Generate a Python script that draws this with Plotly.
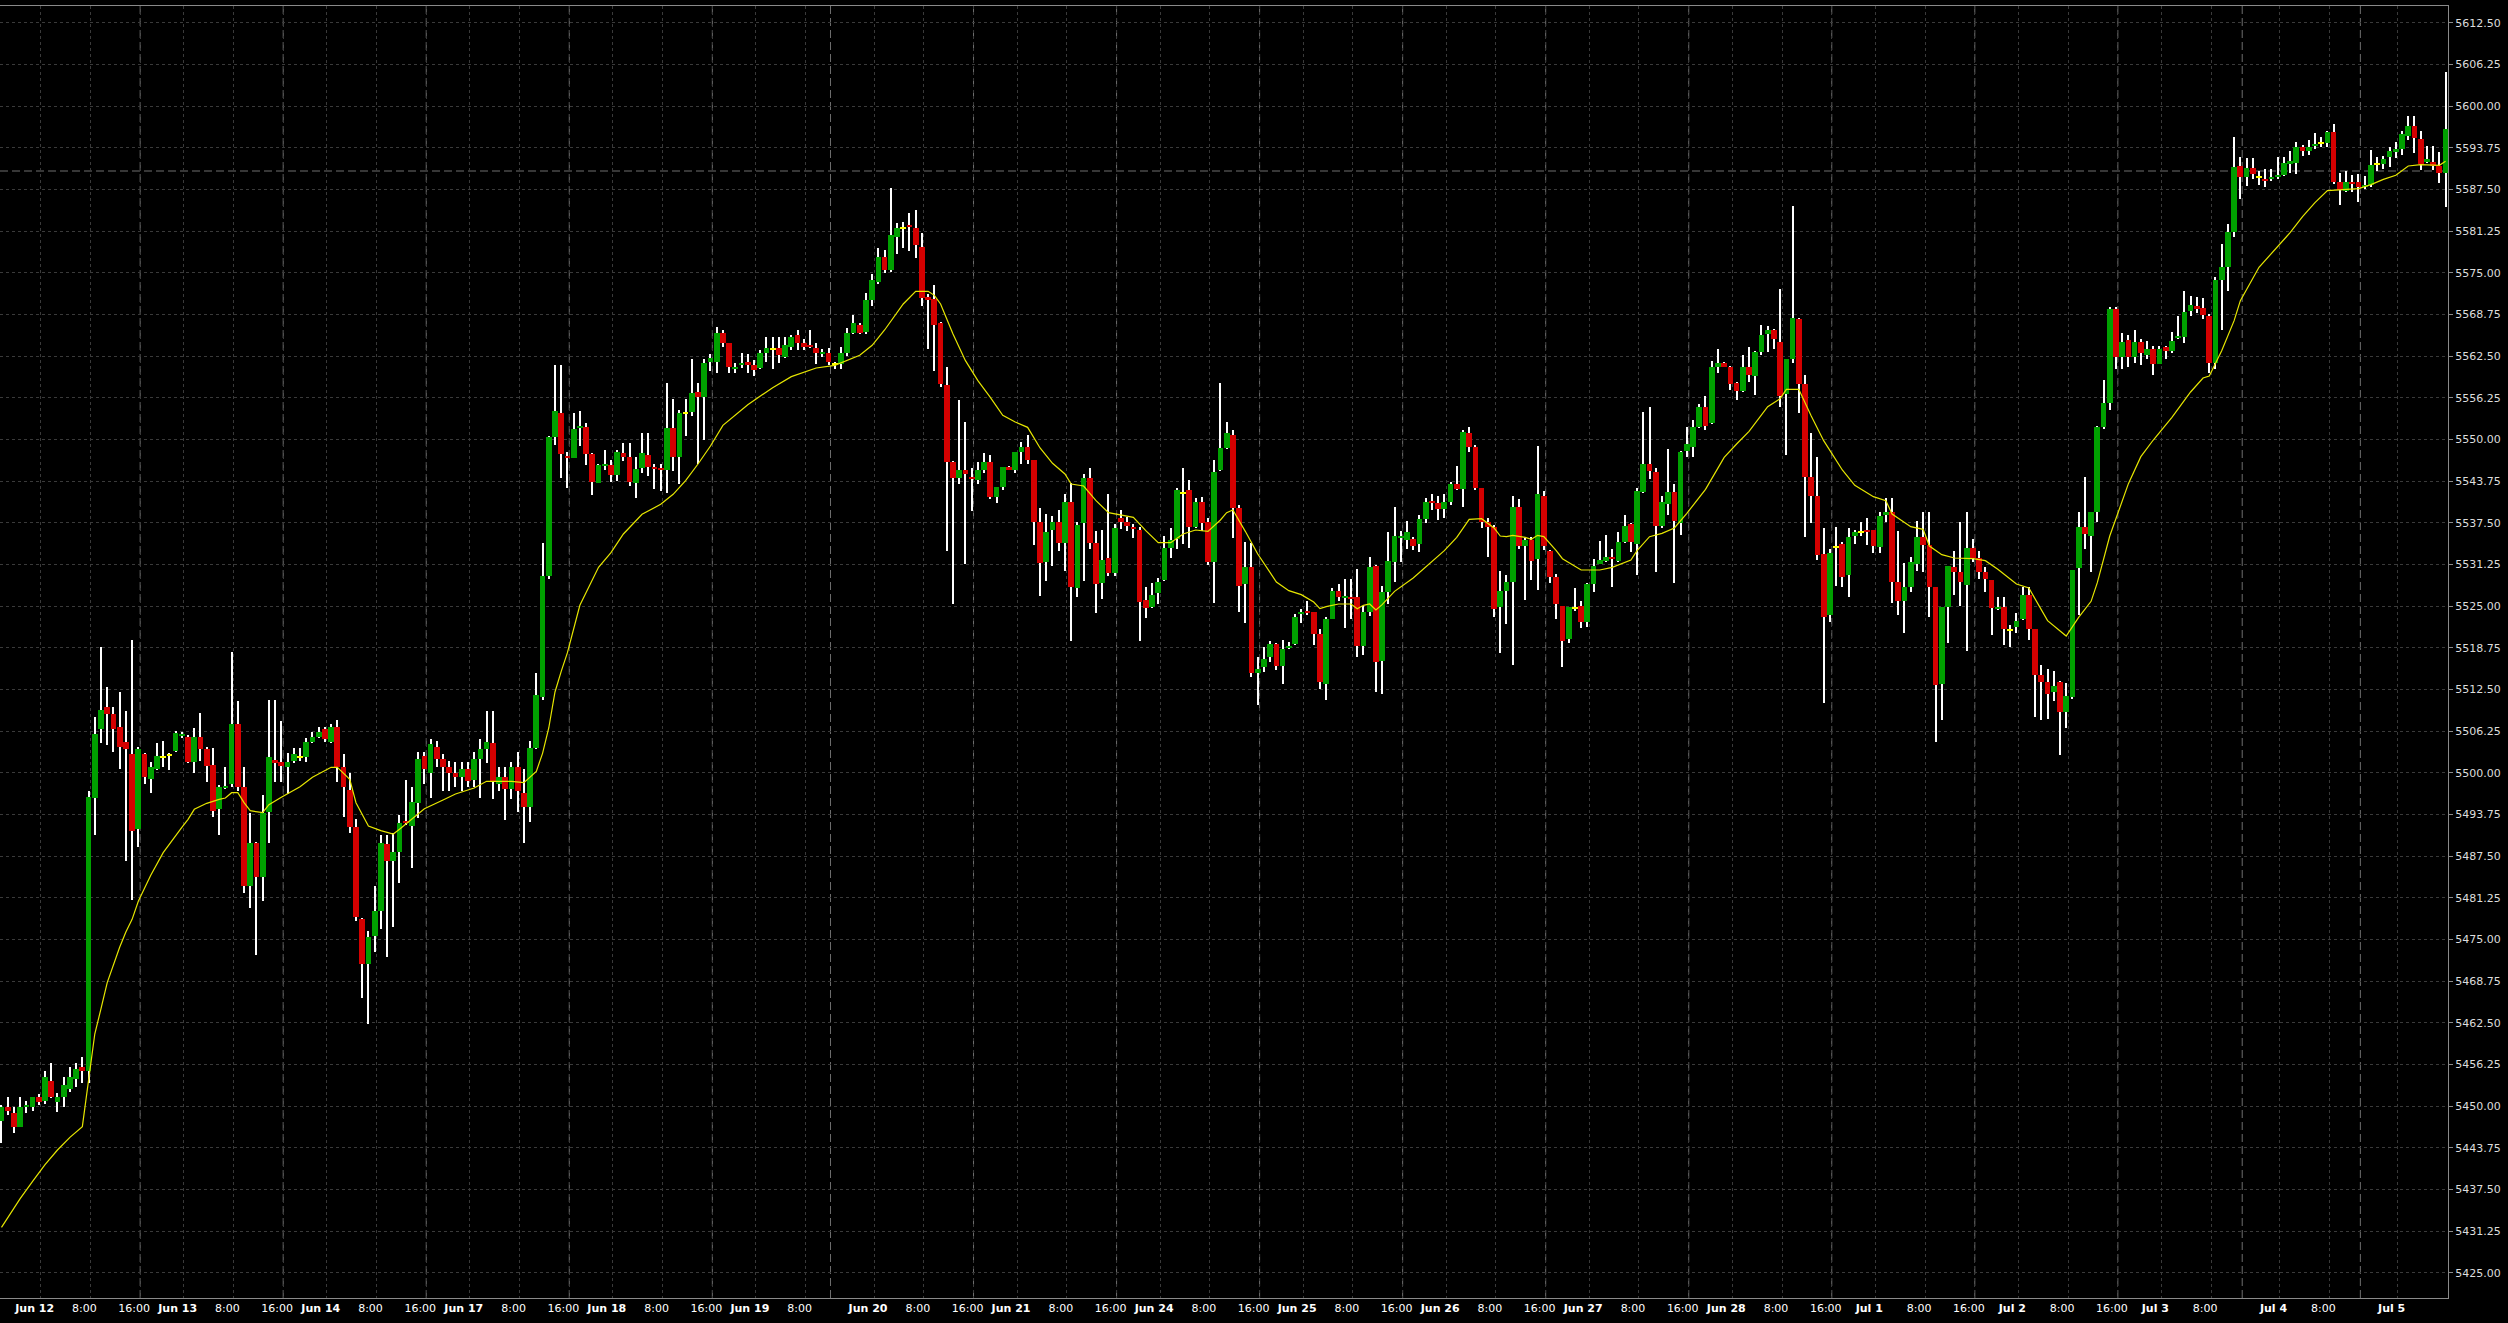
import plotly.graph_objects as go

# ---------------- data (hourly bars, index 0..393) ----------------
opens = [
 5447.7,5449.9,5449.0,5446.8,5449.8,5449.8,5451.4,5450.7,5453.7,5450.6,
 5451.4,5452.5,5454.0,5455.8,5455.2,5496.2,5506.6,5509.8,5508.8,5506.9,
 5504.6,5502.8,5491.6,5502.8,5499.1,5500.6,5502.4,5502.7,5503.3,5505.5,
 5505.4,5501.6,5505.4,5503.5,5501.2,5494.5,5497.7,5498.3,5507.3,5497.9,
 5483.0,5489.5,5484.4,5494.1,5501.9,5501.6,5500.8,5501.8,5502.4,5502.4,
 5504.6,5505.4,5506.5,5504.6,5506.9,5500.8,5497.4,5491.8,5478.0,5471.3,
 5475.5,5479.3,5489.3,5486.7,5488.1,5492.7,5492.0,5495.5,5502.5,5500.0,
 5503.9,5502.0,5500.8,5500.0,5499.3,5500.5,5498.9,5502.0,5503.5,5504.4,
 5498.3,5499.4,5497.5,5500.8,5497.0,5494.9,5503.7,5511.3,5529.5,5550.4,
 5554.0,5547.4,5547.2,5551.7,5551.9,5547.8,5543.5,5546.0,5546.2,5544.6,
 5547.9,5547.4,5543.5,5545.75,5547.6,5545.85,5545.6,5545.4,5551.65,5547.4,
 5553.95,5554.15,5557.15,5556.4,5561.6,5561.65,5566.0,5564.4,5560.65,5561.25,
 5561.6,5561.15,5560.75,5562.9,5563.6,5563.65,5562.4,5563.85,5565.65,5564.5,
 5564.15,5563.65,5562.85,5563.0,5561.25,5561.25,5563.0,5565.9,5567.15,5566.1,
 5570.9,5573.65,5577.35,5575.4,5580.4,5581.7,5582.15,5581.65,5578.85,5571.35,
 5571.1,5567.4,5558.15,5546.6,5544.25,5545.4,5544.35,5543.9,5545.4,5546.6,
 5541.4,5542.85,5545.9,5545.4,5548.1,5548.85,5546.9,5537.65,5531.6,5536.4,
 5537.6,5534.5,5540.6,5527.75,5537.5,5544.25,5534.5,5528.5,5532.15,5530.0,
 5538.25,5537.65,5536.85,5536.4,5525.9,5524.85,5527.0,5528.9,5533.75,5535.0,
 5542.0,5542.35,5536.9,5540.6,5537.6,5531.65,5545.4,5548.75,5550.65,5539.75,
 5528.3,5530.85,5514.9,5515.9,5517.4,5519.3,5516.05,5518.7,5519.3,5523.85,
 5524.15,5524.15,5520.8,5513.35,5523.1,5527.2,5526.2,5526.4,5526.4,5519.0,
 5524.1,5531.0,5516.8,5527.15,5531.6,5535.15,5534.9,5535.0,5534.3,5538.05,
 5540.75,5540.5,5539.55,5540.6,5543.25,5542.5,5551.0,5548.8,5542.75,5537.55,
 5536.8,5524.9,5527.3,5528.6,5539.8,5534.0,5534.9,5532.1,5541.5,5533.2,
 5529.4,5525.0,5520.05,5524.7,5525.0,5522.65,5528.3,5531.35,5531.75,5532.35,
 5531.75,5534.65,5537.35,5534.3,5542.1,5546.3,5545.15,5537.05,5540.3,5542.1,
 5537.45,5548.2,5548.8,5551.85,5554.9,5552.4,5560.8,5561.5,5560.9,5558.5,
 5557.2,5560.9,5559.5,5563.1,5565.8,5566.45,5564.6,5556.8,5562.0,5568.0,
 5558.3,5544.3,5541.5,5532.8,5523.6,5533.9,5534.3,5529.6,5535.55,5536.1,
 5536.4,5536.4,5533.85,5538.7,5539.05,5528.55,5525.7,5527.9,5531.3,5535.3,
 5534.2,5527.9,5513.3,5524.9,5530.8,5530.1,5528.1,5533.7,5532.15,5530.1,
 5528.95,5524.55,5524.9,5521.4,5521.85,5523.0,5526.7,5521.5,5514.65,5513.6,
 5512.1,5513.6,5509.1,5511.3,5530.65,5536.9,5535.5,5539.05,5551.8,5555.4,
 5569.5,5562.35,5564.85,5562.35,5564.6,5562.7,5563.55,5561.3,5563.8,5563.2,
 5565.25,5565.4,5569.3,5569.95,5569.7,5568.45,5561.5,5573.9,5575.8,5581.1,
 5591.05,5589.3,5590.7,5589.3,5589.1,5589.0,5589.4,5589.7,5591.3,5591.5,
 5593.8,5593.2,5594.0,5594.4,5594.45,5596.1,5588.6,5587.25,5588.6,5588.6,
 5587.8,5588.1,5591.3,5591.3,5592.4,5593.15,5593.55,5595.5,5597.0,5595.0,
 5591.65,5591.65,5591.0,5589.9,
]
highs = [
 5450.2,5451.4,5449.9,5451.3,5450.7,5451.4,5451.8,5455.2,5456.5,5452.0,
 5454.4,5455.9,5456.5,5457.3,5497.2,5508.4,5518.8,5512.9,5509.8,5512.1,
 5509.2,5519.9,5503.9,5503.0,5501.6,5504.4,5504.8,5502.9,5506.3,5506.1,
 5505.6,5506.7,5509.0,5503.9,5503.7,5498.1,5500.8,5518.1,5510.8,5500.8,
 5493.9,5489.6,5496.6,5510.9,5510.9,5507.7,5502.9,5503.7,5503.7,5505.2,
 5506.1,5506.9,5506.9,5507.3,5507.9,5502.8,5500.0,5493.0,5478.2,5476.2,
 5483.0,5490.7,5490.7,5491.0,5493.7,5498.9,5497.9,5503.1,5503.1,5505.0,
 5504.8,5502.8,5501.8,5501.6,5501.6,5501.6,5503.1,5505.0,5509.3,5509.3,
 5500.8,5500.8,5501.6,5503.1,5500.6,5504.7,5515.0,5534.5,5550.5,5561.2,
 5561.2,5548.1,5553.9,5554.2,5552.5,5547.9,5546.3,5548.4,5546.9,5548.4,
 5549.5,5549.5,5547.4,5551.0,5550.9,5546.35,5546.25,5558.4,5556.1,5554.4,
 5556.1,5562.1,5558.4,5562.1,5562.75,5566.85,5566.4,5564.4,5561.5,5563.0,
 5562.85,5561.85,5563.4,5565.4,5565.35,5565.4,5565.4,5565.6,5566.35,5565.1,
 5566.4,5564.4,5563.5,5563.75,5561.6,5563.9,5566.75,5568.65,5567.5,5572.0,
 5574.85,5578.65,5578.4,5587.65,5582.4,5582.65,5583.9,5584.35,5581.0,5571.75,
 5573.1,5567.65,5560.85,5546.75,5555.9,5552.65,5545.75,5546.65,5547.9,5547.6,
 5542.9,5545.9,5546.0,5548.1,5549.6,5550.6,5546.9,5539.75,5538.75,5538.5,
 5539.35,5541.75,5543.5,5537.6,5544.75,5545.75,5536.25,5536.35,5541.75,5537.25,
 5539.35,5538.35,5537.25,5536.85,5527.9,5528.5,5529.25,5535.5,5536.75,5542.75,
 5545.75,5543.85,5541.25,5541.35,5538.25,5546.85,5558.4,5552.65,5551.4,5540.2,
 5534.65,5534.5,5517.4,5518.85,5519.7,5519.45,5519.95,5519.55,5523.85,5524.5,
 5525.8,5524.15,5521.6,5523.35,5527.7,5528.3,5529.1,5529.1,5530.6,5525.0,
 5532.35,5531.2,5528.05,5536.15,5539.8,5536.25,5537.7,5535.4,5538.7,5541.15,
 5541.75,5541.5,5541.85,5543.65,5545.95,5551.35,5551.85,5549.1,5542.75,5538.2,
 5537.2,5530.2,5529.6,5541.5,5541.0,5535.15,5535.4,5549.0,5542.25,5533.4,
 5529.8,5525.0,5524.9,5527.65,5525.8,5528.4,5532.1,5534.8,5535.65,5533.6,
 5536.15,5538.7,5537.45,5542.75,5554.15,5554.9,5545.7,5541.5,5548.5,5543.3,
 5548.3,5551.85,5552.9,5555.3,5556.5,5561.75,5563.5,5561.6,5561.0,5558.6,
 5562.65,5563.8,5563.25,5567.2,5567.05,5566.55,5572.5,5562.0,5584.95,5568.25,
 5559.7,5551.0,5547.3,5536.7,5533.5,5536.9,5534.65,5536.7,5536.4,5537.6,
 5538.25,5536.4,5539.1,5541.2,5541.2,5536.2,5531.45,5532.35,5537.8,5539.1,
 5539.1,5527.9,5524.8,5531.0,5533.3,5537.6,5539.1,5535.05,5533.2,5530.9,
 5528.95,5526.4,5526.4,5522.1,5524.0,5527.9,5527.9,5521.5,5516.2,5515.5,
 5515.2,5513.8,5513.5,5530.45,5539.1,5544.35,5539.05,5551.95,5558.95,5569.8,
 5569.8,5565.9,5565.7,5566.4,5565.05,5564.7,5564.05,5564.05,5564.05,5566.1,
 5568.45,5572.2,5571.5,5571.4,5571.2,5568.8,5574.35,5579.3,5582.35,5595.4,
 5592.4,5592.2,5592.2,5590.2,5590.5,5590.5,5592.4,5592.4,5593.2,5594.6,
 5594.2,5594.9,5595.9,5595.3,5596.3,5597.3,5590.0,5590.2,5589.7,5589.8,
 5589.5,5593.35,5592.4,5592.5,5593.9,5594.65,5596.3,5598.5,5598.5,5596.25,
 5594.0,5594.0,5593.05,5605.15,
]
lows = [
 5444.4,5448.6,5445.9,5446.8,5448.9,5449.3,5450.1,5450.3,5451.2,5449.1,
 5449.8,5452.1,5452.8,5453.4,5453.4,5490.7,5504.4,5504.1,5503.1,5500.5,
 5486.7,5480.9,5488.8,5498.3,5497.0,5500.4,5500.9,5500.4,5503.1,5505.2,
 5501.4,5500.0,5501.8,5498.6,5493.3,5490.7,5497.6,5497.9,5497.2,5481.9,
 5479.7,5472.7,5480.7,5489.5,5498.6,5498.6,5496.8,5501.4,5501.8,5501.6,
 5504.4,5505.2,5504.6,5504.4,5498.6,5493.3,5491.0,5477.7,5466.2,5462.3,
 5473.1,5476.5,5472.3,5476.9,5483.4,5492.2,5485.7,5493.2,5498.3,5496.2,
 5500.8,5497.2,5497.2,5497.9,5497.2,5497.9,5497.9,5496.2,5501.4,5496.0,
 5497.2,5492.9,5496.0,5494.1,5489.5,5492.6,5503.5,5510.9,5529.1,5549.2,
 5544.2,5542.7,5547.2,5549.0,5546.1,5541.6,5543.4,5545.4,5543.6,5543.8,
 5546.75,5543.0,5541.25,5545.0,5544.5,5542.5,5542.25,5542.0,5545.25,5543.35,
 5550.5,5553.5,5546.25,5549.85,5560.25,5559.9,5563.85,5560.0,5560.0,5560.75,
 5560.0,5559.5,5560.6,5561.6,5560.6,5561.4,5562.25,5563.35,5563.4,5563.4,
 5563.75,5561.25,5562.35,5561.1,5560.5,5560.6,5562.5,5565.75,5565.75,5565.75,
 5570.0,5573.35,5574.95,5575.1,5577.85,5578.75,5578.25,5577.25,5570.0,5563.6,
 5560.25,5557.85,5533.25,5525.35,5543.35,5531.35,5539.25,5543.25,5545.0,5541.0,
 5540.4,5542.4,5545.4,5544.9,5546.25,5546.35,5534.15,5526.5,5528.75,5531.0,
 5533.25,5530.25,5519.75,5526.35,5528.75,5533.5,5524.0,5526.1,5529.5,5529.5,
 5536.5,5536.25,5535.25,5519.75,5523.25,5524.75,5525.25,5528.75,5532.25,5533.6,
 5534.25,5533.75,5536.75,5536.25,5531.1,5525.5,5545.25,5548.5,5535.25,5524.1,
 5522.5,5514.4,5510.2,5515.15,5516.65,5515.4,5513.3,5518.6,5519.2,5522.5,
 5523.65,5519.2,5512.5,5510.95,5523.0,5525.8,5521.7,5523.0,5517.4,5517.7,
 5523.5,5512.1,5511.75,5525.3,5528.6,5531.6,5533.6,5533.4,5533.1,5537.4,
 5539.45,5537.95,5538.2,5540.2,5542.4,5539.8,5548.1,5542.35,5536.7,5532.4,
 5523.4,5517.95,5522.25,5516.15,5533.6,5525.9,5528.9,5527.4,5533.4,5528.5,
 5523.0,5515.9,5519.45,5524.25,5521.7,5521.8,5527.05,5531.25,5531.6,5527.9,
 5531.6,5534.4,5533.1,5529.7,5542.0,5544.0,5530.1,5536.7,5538.7,5528.5,
 5535.65,5547.3,5547.3,5551.7,5551.35,5552.3,5560.0,5560.8,5557.35,5555.9,
 5557.05,5558.6,5556.7,5562.6,5563.1,5563.5,5554.8,5547.65,5561.5,5553.9,
 5535.4,5537.4,5531.95,5510.5,5522.6,5528.05,5527.8,5526.3,5534.25,5535.5,
 5534.2,5533.0,5533.0,5537.6,5525.5,5523.65,5520.95,5527.05,5530.3,5530.1,
 5523.3,5504.65,5507.9,5519.45,5526.7,5525.0,5518.2,5531.6,5529.1,5527.05,
 5520.6,5524.35,5519.1,5518.9,5520.95,5522.85,5519.9,5508.4,5507.9,5508.05,
 5510.8,5502.6,5506.7,5511.1,5523.65,5533.5,5530.1,5537.6,5551.5,5554.4,
 5560.6,5560.6,5560.8,5561.5,5561.1,5562.0,5559.6,5561.3,5562.0,5563.0,
 5565.05,5564.4,5568.45,5569.0,5568.1,5559.95,5560.6,5566.4,5572.2,5580.3,
 5586.1,5588.0,5589.0,5588.1,5587.8,5588.7,5589.0,5589.5,5590.0,5589.8,
 5592.5,5592.6,5593.6,5593.9,5593.9,5588.3,5585.1,5587.1,5587.1,5585.6,
 5587.5,5587.8,5590.2,5590.5,5590.9,5592.25,5592.65,5594.9,5593.0,5590.4,
 5591.4,5590.4,5588.5,5584.9,
]
closes = [
 5449.9,5449.2,5446.8,5449.9,5450.2,5451.3,5450.6,5454.3,5451.4,5451.4,
 5453.2,5454.3,5455.5,5455.2,5496.4,5505.8,5509.4,5508.8,5506.6,5503.9,
 5503.5,5491.3,5503.5,5499.3,5500.8,5502.5,5502.4,5502.7,5506.0,5505.8,
 5501.6,5505.4,5503.5,5501.0,5494.3,5497.8,5497.9,5507.3,5497.9,5483.0,
 5489.5,5484.4,5493.9,5502.4,5501.4,5501.0,5501.6,5502.8,5502.4,5504.6,
 5505.4,5506.1,5505.0,5506.9,5500.8,5497.8,5491.8,5478.4,5471.3,5475.4,
 5479.2,5489.5,5486.7,5488.1,5492.4,5492.4,5495.6,5502.0,5500.5,5504.3,
 5502.0,5500.8,5500.0,5499.3,5500.5,5498.7,5502.0,5503.5,5504.6,5498.7,
 5499.4,5497.5,5500.8,5497.2,5494.9,5503.7,5511.7,5529.5,5550.4,5554.2,
 5547.8,5547.2,5551.5,5552.0,5547.8,5543.6,5546.2,5546.2,5544.6,5548.1,
 5547.4,5543.65,5545.6,5547.9,5545.9,5545.5,5545.4,5551.65,5547.4,5553.9,
 5553.95,5556.9,5556.4,5561.4,5562.15,5566.0,5564.5,5560.85,5560.85,5561.5,
 5561.2,5560.4,5562.9,5563.65,5563.6,5562.65,5564.15,5565.4,5564.5,5563.9,
 5563.9,5563.0,5563.1,5561.6,5561.25,5563.0,5565.9,5567.4,5566.0,5570.9,
 5573.85,5577.35,5575.4,5580.6,5581.65,5581.7,5581.9,5579.2,5571.25,5570.9,
 5567.15,5558.25,5546.6,5544.25,5545.4,5544.75,5544.15,5545.4,5546.6,5541.4,
 5542.85,5545.9,5545.4,5548.1,5548.85,5546.9,5537.65,5531.5,5536.1,5537.6,
 5534.5,5540.6,5527.9,5537.15,5544.25,5534.5,5528.25,5531.9,5530.0,5536.75,
 5537.65,5537.0,5536.65,5525.65,5524.75,5526.65,5528.6,5533.75,5534.85,5542.4,
 5542.0,5536.9,5540.6,5537.5,5531.65,5545.1,5548.75,5550.9,5539.75,5528.05,
 5530.85,5514.9,5515.55,5517.0,5519.3,5516.05,5518.6,5518.95,5523.35,5524.15,
 5524.0,5520.8,5513.6,5523.1,5527.2,5526.4,5526.55,5526.0,5519.0,5524.1,
 5530.85,5516.65,5527.15,5531.7,5535.5,5535.5,5536.15,5534.0,5538.05,5540.6,
 5540.5,5539.55,5540.6,5543.25,5542.5,5551.05,5548.8,5542.75,5537.55,5536.8,
 5524.6,5527.3,5528.6,5539.8,5534.0,5534.9,5531.7,5541.75,5534.0,5529.4,
 5525.3,5519.8,5524.8,5524.7,5522.65,5528.3,5531.0,5531.95,5532.35,5532.1,
 5534.65,5537.05,5534.65,5542.25,5546.3,5545.3,5537.05,5540.6,5542.1,5537.7,
 5548.1,5549.3,5551.85,5554.9,5552.0,5560.8,5561.5,5560.9,5558.3,5557.3,
 5560.9,5559.6,5563.15,5565.7,5566.45,5565.0,5556.5,5562.0,5568.25,5558.3,
 5544.3,5541.5,5532.6,5523.4,5533.0,5533.9,5529.3,5535.4,5536.1,5536.1,
 5536.2,5534.05,5538.45,5539.05,5528.55,5525.7,5527.9,5531.6,5535.4,5534.2,
 5527.9,5513.15,5524.8,5531.0,5530.1,5528.6,5533.7,5532.15,5530.1,5529.1,
 5524.7,5524.8,5521.6,5521.4,5522.8,5526.7,5521.5,5514.65,5513.6,5511.8,
 5513.0,5509.1,5511.45,5530.45,5536.9,5535.75,5539.05,5551.8,5555.4,5569.5,
 5562.35,5564.6,5562.35,5564.6,5563.0,5563.55,5561.3,5563.55,5563.2,5564.7,
 5565.5,5569.1,5570.15,5569.6,5568.65,5561.5,5573.9,5575.8,5581.1,5590.85,
 5589.3,5590.7,5589.8,5589.3,5588.7,5589.3,5589.7,5591.4,5591.7,5593.8,
 5593.2,5593.9,5594.2,5594.4,5596.1,5588.6,5587.45,5588.6,5588.3,5587.8,
 5588.2,5591.2,5591.3,5592.0,5593.25,5593.55,5595.75,5597.0,5595.15,5591.3,
 5592.05,5591.05,5589.9,5596.55,
]

# moving average (at selected bars)
ma_bar = [0,1,3,5,7,9,11,13,14,15,16,17,19,20,21,22,24,26,29,30,31,33,35,36,37,38,39,40,42,43,
          45,48,50,53,54,56,57,59,61,63,64,66,68,71,73,76,78,82,84,86,87,88,89,90,91,93,94,96,98,100,
          103,106,108,110,112,114,116,120,124,127,131,134,138,140,142,144,145,147,149,150,151,153,155,157,159,161,163,165,167,169,
          171,172,174,176,178,182,184,186,188,190,192,194,196,197,198,200,201,202,205,207,209,211,212,213,215,217,218,219,220,221,
          222,224,227,229,232,234,235,236,238,240,241,242,243,245,246,247,248,249,250,251,253,254,257,259,262,263,265,267,269,271,
          274,277,279,281,284,286,287,289,291,293,296,298,301,303,304,307,309,310,312,314,317,319,321,324,326,329,332,334,336,337,
          338,339,342,344,346,349,352,354,355,357,359,360,363,366,368,370,372,374,376,379,381,383,385,387,389,391,392,393]
ma_val = [5431.8,5433.3,5436.1,5438.7,5441.2,5443.4,5445.3,5446.9,5453.8,5460.8,5464.6,5468.5,5473.8,5476.1,5478.0,5480.7,5484.6,5488.0,5491.8,5493.0,
          5494.5,5495.4,5496.0,5496.2,5497.0,5497.0,5495.5,5494.3,5494.0,5495.2,
          5496.3,5497.9,5499.3,5500.8,5500.8,5499.0,5495.5,5492.0,5491.3,5490.8,5491.5,5493.0,5494.6,5495.9,5496.8,5497.7,5498.7,5498.7,5498.5,5500.2,
          5502.9,5506.7,5512.1,5515.2,5518.0,5525.1,5527.0,5530.8,5533.0,5535.8,
          5538.75,5540.25,5541.75,5543.8,5546.3,5549.0,5552.1,5555.2,5557.75,5559.4,5560.7,5561.1,5562.6,5564.1,5566.4,5568.9,5570.3,5572.2,5572.2,5571.6,
          5570.3,5565.8,5561.8,5558.8,5556.3,5553.6,5552.6,5551.8,5548.7,5546.4,
          5544.8,5543.3,5543.0,5540.8,5539.0,5538.3,5536.3,5534.5,5534.5,5535.8,5536.4,5536.2,5537.9,5539.0,5539.4,5536.2,5534.4,5532.8,5528.6,5527.3,
          5526.7,5525.6,5524.6,5524.9,5525.3,5525.3,5524.6,5525.1,5525.3,5524.4,
          5525.2,5527.2,5529.2,5530.8,5533.3,5535.3,5536.7,5538.0,5538.1,5536.7,5535.5,5535.4,5535.6,5535.3,5535.0,5535.6,5535.4,5534.4,5533.3,5532.1,
          5531.0,5530.4,5530.4,5530.8,5531.9,5533.3,5535.4,5535.9,5536.7,5538.9,
          5542.5,5547.3,5549.3,5551.2,5554.9,5556.1,5557.5,5557.5,5553.5,5549.8,5545.4,5543.1,5541.4,5540.8,5538.8,5536.9,5536.5,5534.0,5532.7,5532.2,
          5532.1,5531.8,5530.5,5528.3,5527.7,5522.8,5520.5,5523.3,5525.7,5528.5,
          5532.0,5535.5,5543.35,5547.4,5549.9,5553.3,5557.1,5559.2,5559.5,5563.3,5567.8,5570.8,5575.8,5578.9,5581.0,5583.4,5585.5,5587.3,5587.45,5587.6,
          5588.2,5589.0,5589.6,5591.0,5591.2,5591.2,5591.1,5591.7]

# x-axis labels: bar index each label belongs to
label_bar = [6,14,22,29,37,45,52,60,68,75,83,91,98,106,114,121,129,140,148,156,163,171,179,186,194,
             202,209,217,225,232,240,248,255,263,271,278,286,294,301,309,317,324,332,340,347,355,366,374,385]
label_text = ["Jun 12","8:00","16:00","Jun 13","8:00","16:00","Jun 14","8:00","16:00","Jun 17","8:00","16:00",
              "Jun 18","8:00","16:00","Jun 19","8:00","Jun 20","8:00","16:00","Jun 21","8:00","16:00","Jun 24",
              "8:00","16:00","Jun 25","8:00","16:00","Jun 26","8:00","16:00","Jun 27","8:00","16:00","Jun 28",
              "8:00","16:00","Jul 1","8:00","16:00","Jul 2","8:00","16:00","Jul 3","8:00","Jul 4","8:00","Jul 5"]
# session separator bars (brighter dashed verticals)
sep_bar = [22,45,68,91,114,133,156,179,202,225,248,271,294,317,340,360,379]
# price axis ticks
y_ticks = [5425.00,5431.25,5437.50,5443.75,5450.00,5456.25,5462.50,5468.75,5475.00,5481.25,5487.50,
           5493.75,5500.00,5506.25,5512.50,5518.75,5525.00,5531.25,5537.50,5543.75,5550.00,5556.25,
           5562.50,5568.75,5575.00,5581.25,5587.50,5593.75,5600.00,5606.25,5612.50]
price_line = 5590.25

n = len(opens)
assert len(highs) == n and len(lows) == n and len(closes) == n, (n, len(highs), len(lows), len(closes))

UP, DOWN, DOJI = "#00a000", "#d40000", "#ffff00"
GRID = "#3a3a3a"
FRAME = "#8a8a8a"

fig = go.Figure()
xs = list(range(n))

# wicks (thin bars so that bodies are drawn over them)
fig.add_trace(go.Bar(x=xs, base=lows, y=[highs[i] - lows[i] for i in xs],
                     width=0.17, marker=dict(color="#ffffff", line=dict(width=0)),
                     hoverinfo="skip", showlegend=False))

# bodies
up = [i for i in xs if closes[i] > opens[i]]
dn = [i for i in xs if closes[i] < opens[i]]
dj = [i for i in xs if closes[i] == opens[i]]
BODY_W = 0.92
fig.add_trace(go.Bar(x=up, base=[opens[i] for i in up], y=[closes[i] - opens[i] for i in up],
                     width=BODY_W, marker=dict(color=UP, line=dict(width=0)), showlegend=False))
fig.add_trace(go.Bar(x=dn, base=[closes[i] for i in dn], y=[opens[i] - closes[i] for i in dn],
                     width=BODY_W, marker=dict(color=DOWN, line=dict(width=0)), showlegend=False))
fig.add_trace(go.Bar(x=dj, base=[closes[i] - 0.15 for i in dj], y=[0.3 for _ in dj],
                     width=BODY_W, marker=dict(color=DOJI, line=dict(width=0)), showlegend=False))

# moving average
fig.add_trace(go.Scatter(x=ma_bar, y=ma_val, mode="lines", line=dict(color="#e6e600", width=1.2),
                         hoverinfo="skip", showlegend=False))

shapes = []
for b in sep_bar:
    shapes.append(dict(type="line", xref="x", yref="paper", x0=b + 0.3, x1=b + 0.3, y0=0, y1=1,
                       line=dict(color="#6e6e6e", width=1, dash="8px,4px"), layer="below"))
shapes.append(dict(type="line", xref="paper", yref="y", x0=0, x1=1, y0=price_line, y1=price_line,
                   line=dict(color="#6e6e6e", width=1, dash="8px,4px"), layer="below"))

ticktext = [("<b>%s</b>" % t) if (t.startswith("Jun") or t.startswith("Jul")) else t for t in label_text]

fig.update_layout(
    width=2508, height=1323,
    margin=dict(l=0, r=60, t=6, b=25),
    paper_bgcolor="#000000", plot_bgcolor="#000000",
    barmode="overlay", bargap=0, showlegend=False,
    shapes=shapes,
    font=dict(family="DejaVu Sans", color="#ffffff", size=11),
    xaxis=dict(range=[-0.24, 393.39], tickmode="array",
               tickvals=[b + 0.3 for b in label_bar], ticktext=ticktext,
               ticklabelshift=-6,
               showgrid=True, gridcolor=GRID, griddash="dot", gridwidth=1,
               zeroline=False, ticks="", showline=True, linecolor=FRAME, linewidth=1, mirror=True,
               tickfont=dict(family="DejaVu Sans", size=11, color="#ffffff")),
    yaxis=dict(range=[5421.2, 5615.0], side="right", tickmode="array",
               tickvals=y_ticks, ticktext=["%.2f" % v for v in y_ticks],
               showgrid=True, gridcolor=GRID, griddash="dot", gridwidth=1,
               zeroline=False, ticks="outside", ticklen=4, tickcolor=FRAME,
               showline=True, linecolor=FRAME, linewidth=1, mirror=True,
               tickfont=dict(family="DejaVu Sans", size=11, color="#dddddd")),
)

fig.write_html("out.html", config={"displayModeBar": False},
               post_script="document.body.style.margin='0px';")
